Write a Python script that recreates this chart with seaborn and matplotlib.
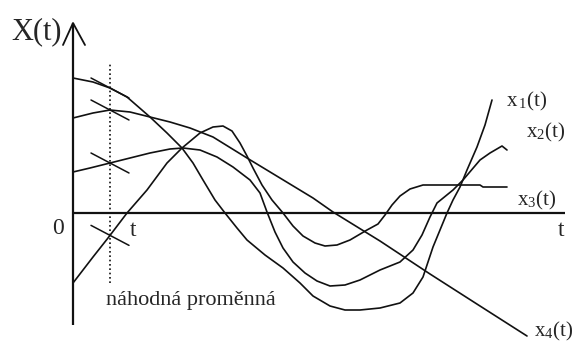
import numpy as np
import pandas as pd
import matplotlib
matplotlib.use("Agg")
import matplotlib.pyplot as plt
import seaborn as sns

# Four realisations x_i(t) of the random process X(t)
t_x1 = [0, 0.40, 0.74, 1.14, 1.54, 1.88, 2.18, 2.40, 2.60, 2.84, 3.04, 3.28, 3.48,
        3.84, 4.20, 4.54, 4.80, 5.14, 5.44, 5.74, 6.14, 6.54, 6.80, 7.00, 7.20,
        7.34, 7.48, 7.60, 7.74, 7.88, 8.08, 8.24, 8.38]
v_x1 = [1.90, 2.00, 2.06, 2.02, 1.92, 1.60, 1.30, 1.00, 0.66, 0.26, 0.00, -0.30,
        -0.54, -0.84, -1.10, -1.40, -1.66, -1.86, -1.94, -1.94, -1.90, -1.80,
        -1.60, -1.28, -0.68, -0.34, 0.00, 0.26, 0.52, 0.86, 1.32, 1.76, 2.26]

t_x2 = [0, 0.34, 0.74, 1.14, 1.54, 1.94, 2.20, 2.54, 2.88, 3.20, 3.54, 3.74, 3.88,
        4.04, 4.20, 4.40, 4.64, 4.88, 5.14, 5.44, 5.74, 6.14, 6.54, 6.80, 6.98,
        7.14, 7.28, 7.60, 7.80, 8.14, 8.34, 8.58, 8.68]
v_x2 = [0.82, 0.90, 1.00, 1.10, 1.20, 1.28, 1.30, 1.26, 1.12, 0.92, 0.66, 0.40,
        0.02, -0.38, -0.70, -0.98, -1.20, -1.36, -1.46, -1.44, -1.34, -1.14,
        -0.98, -0.74, -0.44, -0.08, 0.20, 0.46, 0.66, 1.06, 1.20, 1.34, 1.26]

t_x3 = [0, 0.40, 0.70, 1.08, 1.48, 1.88, 2.18, 2.54, 2.80, 3.00, 3.18, 3.34, 3.48,
        3.60, 3.78, 3.98, 4.20, 4.40, 4.60, 4.84, 5.04, 5.28, 5.54, 5.88, 6.10,
        6.24, 6.38, 6.54, 6.74, 7.00, 7.34, 7.74, 8.14, 8.20, 8.68]
v_x3 = [-1.40, -0.88, -0.50, 0.00, 0.46, 1.00, 1.30, 1.60, 1.72, 1.74, 1.64, 1.40,
        1.14, 0.90, 0.56, 0.26, 0.00, -0.26, -0.46, -0.60, -0.66, -0.64, -0.54,
        -0.34, -0.22, -0.04, 0.16, 0.34, 0.48, 0.56, 0.56, 0.56, 0.56, 0.52, 0.52]

t_x4 = [0, 0.40, 0.74, 1.08, 1.54, 1.94, 2.34, 2.80, 3.48, 4.14, 4.80, 5.20, 6.14,
        7.14, 8.14, 9.08]
v_x4 = [2.70, 2.62, 2.50, 2.32, 1.92, 1.82, 1.70, 1.52, 1.10, 0.70, 0.30, 0.02,
        -0.56, -1.22, -1.86, -2.46]

names = ["x1", "x2", "x3", "x4"]
series = [(t_x1, v_x1), (t_x2, v_x2), (t_x3, v_x3), (t_x4, v_x4)]

# time instant at which the random variable X(t) is taken
t_cut = 0.74

sns.set_theme(style="white")
plt.rcParams["font.family"] = ["Liberation Serif", "DejaVu Serif"]
plt.rcParams["mathtext.fontset"] = "stix"

fig = plt.figure(figsize=(5.77, 3.41), dpi=100)
ax = fig.add_axes([0, 0, 1, 1])
ax.set_xlim(-1.46, 10.08)
ax.set_ylim(-2.56, 4.26)
ax.axis("off")

frames = [pd.DataFrame({"t": t, "X": v, "real": n})
          for n, (t, v) in zip(names, series)]
df = pd.concat(frames, ignore_index=True)

sns.lineplot(data=df, x="t", y="X", hue="real", palette=["#111111"] * 4,
             estimator=None, sort=False, legend=False, linewidth=1.2, ax=ax)

# coordinate axes with an open arrowhead on X
ax.plot([0, 0], [-2.24, 3.80], color="#111111", lw=1.6, solid_capstyle="butt")
ax.plot([-0.20, 0, 0.24], [3.36, 3.80, 3.36], color="#111111", lw=1.3)
ax.plot([0, 9.84], [0, 0], color="#111111", lw=1.6, solid_capstyle="butt")

# dotted cut at time t
ax.plot([t_cut, t_cut], [-1.40, 3.02], color="#111111", lw=1.2,
        linestyle=(0, (1, 1.6)))

# small strokes where each realisation meets the cut
for t, v in series:
    yc = np.interp(t_cut, t, v)
    ax.plot([t_cut - 0.38, t_cut + 0.38], [yc + 0.20, yc - 0.20],
            color="#111111", lw=1.1)

fs = 17
ax.text(-1.24, 3.62, "X(t)", fontsize=22, ha="left", va="center")
ax.text(-0.30, -0.30, "0", fontsize=fs, ha="center", va="center")
ax.text(1.20, -0.36, "t", fontsize=fs, ha="center", va="center")
ax.text(9.76, -0.34, "t", fontsize=fs, ha="center", va="center")
ax.text(0.66, -1.74, "náhodná proměnná", fontsize=16, ha="left", va="center")

ax.text(8.66, 2.24, r"x$_{\,\mathregular{1}}$(t)", fontsize=15, ha="left", va="center")
ax.text(9.06, 1.62, r"x$_{\mathregular{2}}$(t)", fontsize=15, ha="left", va="center")
ax.text(8.88, 0.26, r"x$_{\mathregular{3}}$(t)", fontsize=15, ha="left", va="center")
ax.text(9.22, -2.36, r"x$_{\mathregular{4}}$(t)", fontsize=15, ha="left", va="center")

fig.savefig("out.png", dpi=100, facecolor="white")
